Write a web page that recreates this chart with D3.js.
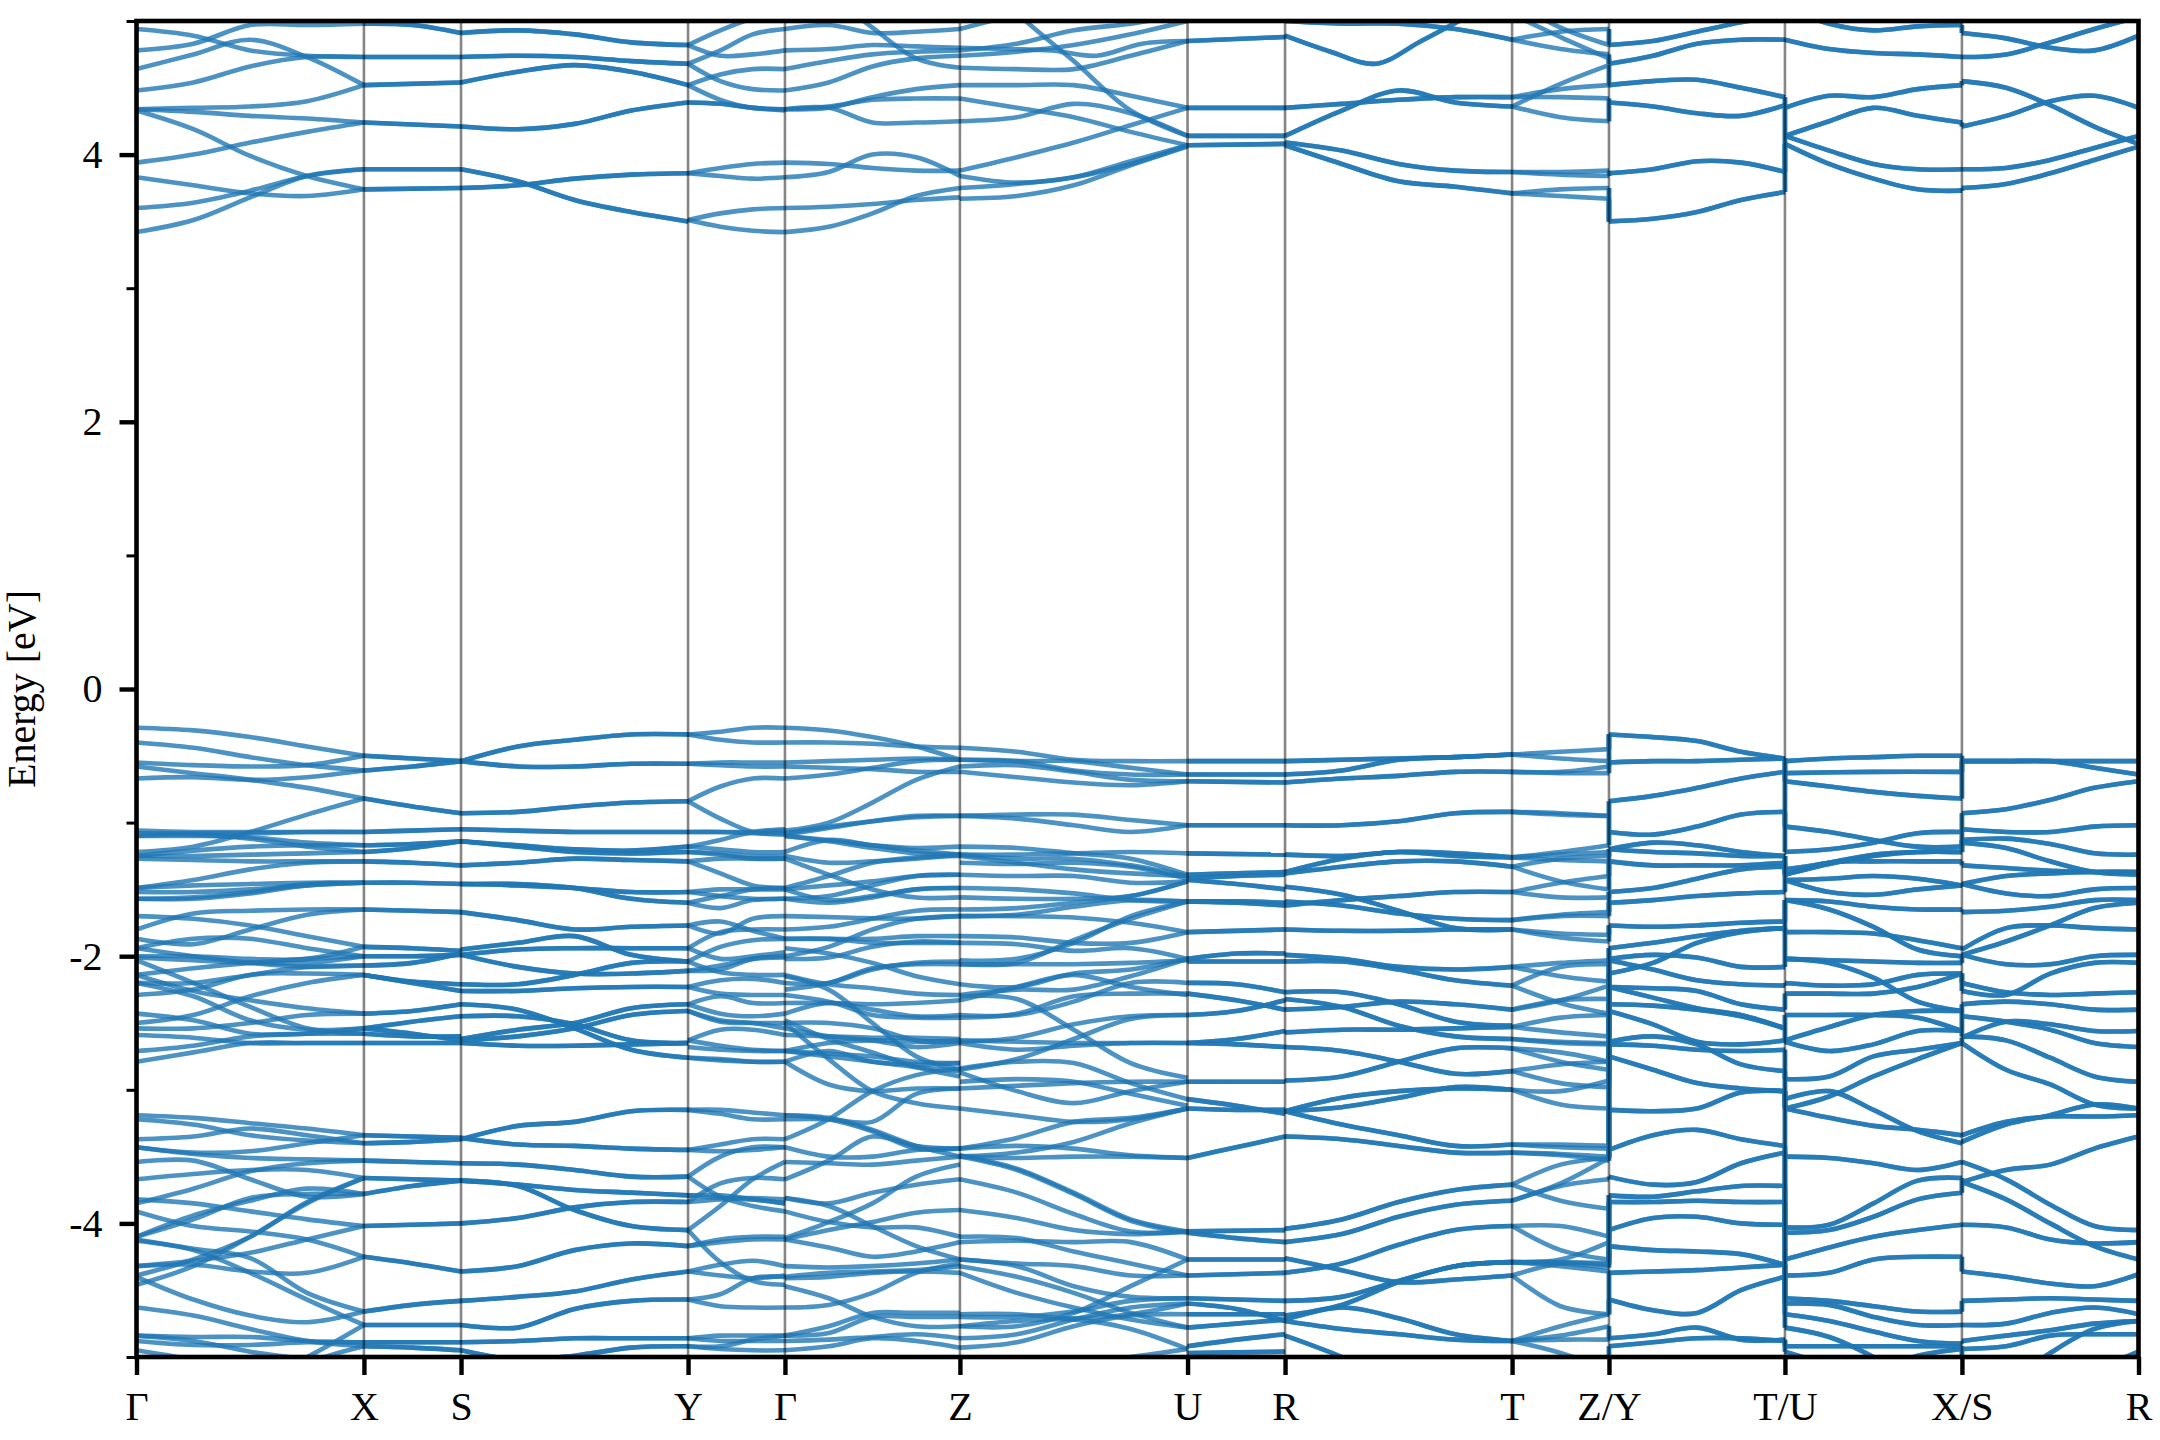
<!DOCTYPE html>
<html>
<head>
<meta charset="utf-8">
<script src="https://cdn.jsdelivr.net/npm/d3@7"></script>
<style>
html,body{margin:0;padding:0;background:#fff;}
svg{display:block;}
text{font-family:"Liberation Serif","Times New Roman",serif;fill:#000;}
</style>
</head>
<body>
<div id="chart"></div>
<script>
const kLabels = ["Γ","X","S","Y","Γ","Z","U","R","T","Z/Y","T/U","X/S","R"];
const kPath = [0,0.1136,0.1621,0.2755,0.3239,0.4113,0.5250,0.5737,0.6871,0.7355,0.8234,0.9118,1];
const yMajor = [-4,-2,0,2,4];
const yMinor = [-5,-3,-1,1,3,5];

const bandsGX = [
[4.94,4.89,4.78,4.74,4.73],[4.78,4.83,4.97,4.97,4.98],[4.64,4.75,4.86,4.73,4.52],[4.48,4.54,4.66,4.73,4.73],
[4.34,4.35,4.36,4.40,4.52],[4.34,4.32,4.29,4.27,4.24],[4.33,4.19,3.99,3.84,3.74],[3.94,4.00,4.09,4.17,4.24],
[3.83,3.77,3.71,3.69,3.74],[3.60,3.64,3.73,3.84,3.89],[3.42,3.51,3.68,3.84,3.89],
[-0.29,-0.31,-0.36,-0.43,-0.50],[-0.40,-0.44,-0.51,-0.57,-0.61],[-0.55,-0.57,-0.58,-0.57,-0.50],[-0.58,-0.63,-0.68,-0.74,-0.82],
[-0.67,-0.66,-0.68,-0.66,-0.61],[-1.22,-1.18,-1.07,-0.94,-0.82],[-1.06,-1.07,-1.07,-1.07,-1.07],[-1.08,-1.08,-1.08,-1.07,-1.07],
[-1.10,-1.10,-1.11,-1.15,-1.17],[-1.10,-1.09,-1.12,-1.18,-1.22],[-1.25,-1.21,-1.18,-1.17,-1.17],[-1.25,-1.25,-1.24,-1.23,-1.22],
[-1.27,-1.28,-1.29,-1.29,-1.29],[-1.49,-1.43,-1.35,-1.30,-1.29],[-1.49,-1.47,-1.46,-1.45,-1.45],[-1.52,-1.52,-1.50,-1.47,-1.45],
[-1.57,-1.57,-1.53,-1.47,-1.45],[-1.57,-1.56,-1.52,-1.46,-1.45],
[-1.70,-1.72,-1.77,-1.85,-1.93],[-1.80,-1.68,-1.66,-1.65,-1.65],[-1.87,-1.91,-1.80,-1.69,-1.65],[-1.94,-1.87,-1.87,-1.94,-2.00],
[-2.00,-2.00,-2.02,-2.02,-1.93],[-2.01,-2.03,-2.05,-2.05,-2.00],[-2.14,-2.09,-2.05,-2.02,-2.00],[-2.20,-2.20,-2.14,-2.08,-2.07],
[-2.29,-2.25,-2.14,-2.13,-2.14],[-1.94,-2.00,-2.05,-2.08,-2.07],[-2.50,-2.44,-2.30,-2.20,-2.14],
[-2.03,-2.20,-2.38,-2.54,-2.58],[-2.14,-2.26,-2.33,-2.39,-2.43],[-2.20,-2.30,-2.48,-2.55,-2.54],
[-2.79,-2.72,-2.65,-2.65,-2.65],[-2.71,-2.67,-2.60,-2.58,-2.54],[-2.59,-2.61,-2.65,-2.65,-2.65],[-2.54,-2.54,-2.50,-2.44,-2.43],
[-2.43,-2.48,-2.58,-2.58,-2.58],
[-3.19,-3.21,-3.25,-3.29,-3.34],[-3.22,-3.26,-3.34,-3.38,-3.40],[-3.37,-3.35,-3.29,-3.34,-3.40],[-3.43,-3.47,-3.46,-3.40,-3.34],
[-3.43,-3.48,-3.51,-3.52,-3.53],[-3.54,-3.53,-3.67,-3.80,-3.78],[-3.67,-3.63,-3.60,-3.60,-3.66],[-3.85,-3.74,-3.61,-3.55,-3.53],
[-3.82,-3.85,-3.91,-3.97,-4.02],[-3.91,-4.02,-4.06,-4.12,-4.25],[-4.10,-3.97,-3.81,-3.78,-3.78],[-4.10,-3.94,-3.83,-3.74,-3.78],
[-4.12,-4.19,-4.26,-4.52,-4.66],[-4.13,-4.20,-4.37,-4.57,-4.76],[-4.32,-4.28,-4.22,-4.12,-4.02],[-4.32,-4.31,-4.36,-4.37,-4.25],
[-4.39,-4.27,-4.10,-3.84,-3.66],[-4.46,-4.32,-4.10,-3.85,-3.66],[-4.40,-4.57,-4.69,-4.74,-4.66],[-4.63,-4.69,-4.79,-4.88,-4.92],
[-4.84,-4.85,-4.85,-4.88,-4.89],[-4.84,-4.88,-4.96,-5.02,-5.10],[-4.88,-4.91,-4.91,-4.89,-4.89],[-4.95,-5.02,-5.10,-5.20,-5.30],
[-5.40,-5.30,-5.20,-5.00,-4.76],[-5.50,-5.40,-5.30,-5.05,-4.92]
];

const bandsXS = [
[4.98,4.97,4.91],[4.73,4.73],[4.52,4.54],[4.24,4.21],[3.89,3.89],[3.74,3.75],
[-0.50,-0.52,-0.54],[-0.61,-0.58,-0.54],[-0.82,-0.88,-0.93],[-1.07,-1.06,-1.05],[-1.17,-1.16,-1.14],[-1.22,-1.19,-1.14],
[-1.29,-1.30,-1.32],[-1.45,-1.45,-1.46],[-1.65,-1.66,-1.67],[-1.93,-1.94,-1.96],[-2.00,-2.00,-1.99],[-2.07,-2.05,-1.98],
[-2.14,-2.19,-2.21],[-2.14,-2.20,-2.26],[-2.43,-2.41,-2.36],[-2.54,-2.49,-2.45],[-2.54,-2.58,-2.63],[-2.65,-2.65,-2.65],[-2.58,-2.60,-2.60],
[-3.34,-3.35,-3.36],[-3.40,-3.39,-3.37],[-3.53,-3.54,-3.55],[-3.66,-3.67,-3.68],[-3.78,-3.72,-3.68],[-4.02,-4.01,-4.00],
[-4.25,-4.30,-4.36],[-4.66,-4.61,-4.58],[-4.76,-4.76],[-4.89,-4.89],[-4.92,-4.93,-4.95]
];

const bandsSY = [
[4.91,4.93,4.90,4.84,4.82],[4.73,4.74,4.73,4.70,4.68],[4.54,4.62,4.67,4.62,4.52],[4.21,4.19,4.23,4.33,4.39],
[3.89,3.80,3.66,3.57,3.50],[3.75,3.77,3.82,3.85,3.86],
[-0.54,-0.43,-0.38,-0.34,-0.34],[-0.54,-0.58,-0.58,-0.56,-0.56],[-0.93,-0.92,-0.88,-0.85,-0.84],[-1.05,-1.06,-1.07,-1.07,-1.07],
[-1.14,-1.17,-1.20,-1.21,-1.18],[-1.14,-1.18,-1.22,-1.23,-1.22],[-1.32,-1.30,-1.27,-1.28,-1.29],[-1.46,-1.47,-1.49,-1.52,-1.52],
[-1.46,-1.46,-1.49,-1.57,-1.60],[-1.67,-1.73,-1.80,-1.78,-1.77],[-1.95,-1.90,-1.85,-1.99,-2.04],[-1.99,-1.95,-1.94,-1.94,-1.94],
[-1.99,-2.08,-2.13,-2.13,-2.11],[-2.21,-2.21,-2.14,-2.05,-2.04],[-2.26,-2.26,-2.24,-2.23,-2.23],[-2.36,-2.40,-2.54,-2.70,-2.76],
[-2.45,-2.45,-2.51,-2.63,-2.65],[-2.62,-2.55,-2.50,-2.39,-2.36],[-2.63,-2.60,-2.54,-2.44,-2.41],[-2.65,-2.67,-2.67,-2.66,-2.65],
[-3.36,-3.41,-3.42,-3.44,-3.45],[-3.37,-3.27,-3.24,-3.16,-3.15],[-3.55,-3.56,-3.60,-3.65,-3.65],[-3.68,-3.71,-3.75,-3.77,-3.79],
[-3.68,-3.72,-3.90,-4.02,-4.05],[-4.00,-3.96,-3.88,-3.84,-3.84],[-4.36,-4.32,-4.20,-4.15,-4.17],[-4.58,-4.55,-4.51,-4.42,-4.36],
[-4.76,-4.78,-4.64,-4.58,-4.57],[-4.89,-4.88,-4.86,-4.86,-4.86],[-4.95,-5.02,-4.99,-4.93,-4.92]
];

const bandsYG = [
[4.82,4.93,5.02,5.08],[4.82,4.74,4.75,4.78],[4.68,4.78,4.90,4.94],[4.68,4.55,4.49,4.48],[4.52,4.60,4.64,4.64],[4.52,4.41,4.35,4.34],
[4.39,4.38,4.35,4.34],[4.39,4.38,4.35,4.33],[3.86,3.90,3.93,3.94],[3.86,3.84,3.82,3.83],[3.51,3.56,3.59,3.60],[3.51,3.46,3.43,3.42],
[-0.34,-0.32,-0.29,-0.29],[-0.34,-0.38,-0.40,-0.40],[-0.56,-0.55,-0.55,-0.55],[-0.56,-0.57,-0.58,-0.58],[-0.84,-0.73,-0.67,-0.67],
[-0.84,-0.97,-1.07,-1.09],[-1.07,-1.07,-1.08,-1.08],[-1.07,-1.07,-1.07,-1.06],[-1.18,-1.13,-1.07,-1.05],[-1.18,-1.20,-1.22,-1.22],
[-1.22,-1.23,-1.25,-1.25],[-1.22,-1.24,-1.27,-1.27],[-1.29,-1.38,-1.47,-1.49],[-1.29,-1.27,-1.27,-1.27],[-1.52,-1.50,-1.50,-1.50],
[-1.52,-1.55,-1.57,-1.57],[-1.60,-1.64,-1.58,-1.57],[-1.60,-1.55,-1.50,-1.49],[-1.77,-1.74,-1.81,-1.87],[-1.77,-1.83,-1.72,-1.70],
[-1.94,-1.82,-1.80,-1.80],[-1.94,-2.02,-2.00,-1.97],[-2.04,-1.93,-1.88,-1.87],[-2.04,-2.12,-2.14,-2.14],[-2.11,-2.10,-2.02,-2.00],
[-2.11,-2.07,-2.02,-2.01],[-2.23,-2.18,-2.17,-2.20],[-2.23,-2.28,-2.29,-2.29],[-2.36,-2.30,-2.35,-2.35],[-2.36,-2.43,-2.45,-2.43],
[-2.41,-2.48,-2.50,-2.54],[-2.41,-2.49,-2.50,-2.50],[-2.63,-2.55,-2.55,-2.59],[-2.63,-2.67,-2.70,-2.71],[-2.68,-2.70,-2.71,-2.71],
[-2.76,-2.78,-2.79,-2.79],[-2.76,-2.77,-2.79,-2.79],
[-3.15,-3.15,-3.17,-3.19],[-3.15,-3.18,-3.22,-3.22],[-3.45,-3.41,-3.37,-3.37],[-3.45,-3.46,-3.45,-3.43],[-3.65,-3.50,-3.43,-3.43],
[-3.65,-3.80,-3.87,-3.91],[-3.79,-3.81,-3.81,-3.82],[-3.79,-3.79,-3.82,-3.85],[-3.84,-3.82,-3.82,-3.85],[-3.84,-3.70,-3.66,-3.67],
[-4.05,-3.87,-3.67,-3.54],[-4.05,-4.29,-4.43,-4.46],[-4.17,-4.12,-4.10,-4.10],[-4.17,-4.14,-4.12,-4.12],[-4.36,-4.31,-4.28,-4.32],
[-4.36,-4.39,-4.41,-4.39],[-4.57,-4.62,-4.63,-4.63],[-4.57,-4.53,-4.41,-4.40],[-4.86,-4.84,-4.84,-4.84],[-4.86,-4.88,-4.88,-4.88],
[-4.92,-4.92,-4.87,-4.84],[-4.92,-4.94,-4.95,-4.95]
];

const bandsGZ = [
[4.94,4.97,4.91,4.92,4.94],[5.40,5.20,4.95,4.72,4.65],[4.78,4.79,4.82,4.81,4.80],[4.64,4.70,4.75,4.77,4.78],[4.48,4.54,4.66,4.72,4.74],
[4.34,4.35,4.43,4.49,4.52],[4.34,4.36,4.41,4.42,4.42],[4.34,4.35,4.24,4.24,4.25],[3.94,3.93,3.90,3.88,3.88],[3.83,3.87,4.00,3.98,3.84],
[3.60,3.61,3.63,3.66,3.68],[3.42,3.46,3.56,3.69,3.75],
[-0.29,-0.31,-0.36,-0.43,-0.53],[-0.40,-0.40,-0.41,-0.43,-0.44],[-0.55,-0.54,-0.53,-0.52,-0.53],[-0.58,-0.59,-0.60,-0.62,-0.62],
[-0.67,-0.64,-0.59,-0.54,-0.53],[-1.06,-1.00,-0.85,-0.68,-0.58],[-1.08,-1.03,-0.99,-0.96,-0.95],[-1.09,-1.04,-0.99,-0.95,-0.95],
[-1.10,-1.14,-1.19,-1.23,-1.24],[-1.10,-1.13,-1.17,-1.19,-1.18],[-1.22,-1.13,-1.17,-1.21,-1.24],[-1.25,-1.30,-1.29,-1.27,-1.24],
[-1.27,-1.39,-1.50,-1.56,-1.56],[-1.49,-1.40,-1.30,-1.26,-1.25],[-1.50,-1.47,-1.44,-1.40,-1.39],[-1.50,-1.58,-1.55,-1.50,-1.49],
[-1.57,-1.60,-1.56,-1.50,-1.49],[-1.57,-1.55,-1.47,-1.40,-1.39],[-1.70,-1.71,-1.72,-1.70],[-1.80,-1.78,-1.72,-1.66,-1.65],
[-1.87,-1.87,-1.87,-1.85,-1.85],[-1.87,-1.87,-1.90,-1.90,-1.90],[-1.94,-1.98,-2.05,-2.15,-2.21],[-2.00,-1.93,-1.80,-1.72,-1.70],
[-2.02,-2.01,-1.93,-1.89,-1.90],[-2.14,-2.21,-2.24,-2.28,-2.29],[-2.20,-2.20,-2.10,-2.05,-2.04],[-2.25,-2.20,-2.09,-2.06,-2.06],
[-2.29,-2.34,-2.44,-2.46,-2.46],[-2.35,-2.35,-2.36,-2.35,-2.33],[-2.43,-2.35,-2.40,-2.45,-2.44],[-2.50,-2.50,-2.54,-2.63,-2.64],
[-2.54,-2.60,-2.63,-2.68,-2.65],[-2.59,-2.60,-2.61,-2.61,-2.62],[-2.15,-2.25,-2.50,-2.75,-2.85],[-2.48,-2.62,-2.72,-2.83,-2.90],
[-2.71,-2.65,-2.63,-2.64,-2.63],[-2.79,-2.71,-2.79,-2.81,-2.80],[-2.71,-2.73,-2.75,-2.79,-2.80],
[-3.19,-3.21,-3.30,-3.42,-3.50],[-3.19,-3.22,-3.31,-3.44,-3.44],[-3.37,-3.22,-3.01,-2.89,-2.84],[-3.43,-3.50,-3.50,-3.45,-3.44],
[-3.54,-3.55,-3.56,-3.53,-3.50],[-3.67,-3.53,-3.35,-3.42,-3.44],[-3.22,-3.22,-3.24,-3.03,-2.99],[-2.79,-2.96,-3.01,-2.99,-2.99],
[-2.50,-2.77,-3.01,-3.10,-3.14],[-2.71,-2.75,-2.79,-2.83,-2.86],
[-3.81,-3.85,-3.77,-3.71,-3.67],[-3.81,-3.87,-4.02,-4.17,-4.27],[-3.91,-3.99,-4.03,-4.03,-4.10],[-4.11,-3.99,-3.85,-3.65,-3.56],
[-4.12,-4.05,-3.99,-3.92,-3.90],[-4.12,-4.18,-4.25,-4.21,-4.14],[-4.32,-4.33,-4.32,-4.30,-4.27],[-4.40,-4.37,-4.36,-4.35,-4.32],
[-4.41,-4.40,-4.37,-4.36,-4.37],[-4.47,-4.56,-4.70,-4.77,-4.77],[-4.63,-4.61,-4.52,-4.37,-4.30],[-4.84,-4.77,-4.67,-4.67,-4.67],
[-4.84,-4.82,-4.70,-4.70,-4.70],[-4.88,-4.87,-4.85,-4.83,-4.86],[-4.95,-4.92,-4.86,-4.88,-4.93]
];

const bandsZU = [
[4.94,5.05,5.15,5.20,5.20],[5.50,5.06,4.70,4.33,4.14],[4.78,4.83,4.93,4.98,5.05],[4.74,4.77,4.82,4.90,5.00],
[4.80,4.79,4.78,4.74,4.83,4.85],[4.65,4.64,4.64,4.74,4.85],[4.52,4.52,4.52,4.44,4.35],[4.42,4.35,4.28,4.17,4.07],
[4.25,4.28,4.38,4.31,4.14],[3.88,3.98,4.09,4.22,4.35],[3.84,3.79,3.83,3.93,4.07],[3.75,3.78,3.83,3.95,4.07],[3.67,3.69,3.77,3.92,4.06],
[-0.44,-0.47,-0.53,-0.54,-0.54],[-0.53,-0.54,-0.61,-0.64,-0.64],[-0.53,-0.54,-0.54,-0.59,-0.64],[-0.58,-0.57,-0.62,-0.68,-0.69],
[-0.62,-0.66,-0.70,-0.72,-0.69],[-0.95,-0.94,-0.94,-0.98,-1.02],[-0.95,-0.97,-1.02,-1.07,-1.02],[-1.18,-1.19,-1.23,-1.27,-1.39],
[-1.24,-1.24,-1.23,-1.22,-1.23],[-1.24,-1.27,-1.27,-1.32,-1.40],[-1.25,-1.30,-1.35,-1.38,-1.40],[-1.30,-1.31,-1.30,-1.33,-1.42],
[-1.39,-1.40,-1.40,-1.45,-1.44],[-1.49,-1.50,-1.53,-1.58,-1.59],[-1.56,-1.57,-1.57,-1.55,-1.44],[-1.65,-1.64,-1.60,-1.55,-1.44],
[-1.70,-1.69,-1.63,-1.58,-1.59],[-1.70,-1.70,-1.71,-1.75,-1.82],[-1.85,-1.86,-1.90,-1.90,-1.82],[-1.90,-1.91,-1.96,-1.94,-2.02],
[-2.03,-2.02,-1.90,-1.70,-1.59],[-2.06,-2.05,-1.88,-1.72,-1.59],[-2.06,-2.06,-2.06,-2.05,-2.03],[-2.21,-2.23,-2.13,-2.10,-2.02],
[-2.29,-2.25,-2.25,-2.15,-2.02],[-2.30,-2.32,-2.55,-2.80,-2.91],[-2.44,-2.44,-2.34,-2.20,-2.20],[-2.46,-2.43,-2.30,-2.28,-2.28],
[-2.33,-2.23,-2.14,-2.23,-2.29],[-2.64,-2.61,-2.51,-2.45,-2.44],[-2.65,-2.70,-2.67,-2.65,-2.65],[-2.63,-2.64,-2.65,-2.65,-2.65],
[-2.85,-2.77,-2.62,-2.47,-2.44],[-2.84,-2.79,-2.80,-2.95,-3.07],[-2.94,-2.92,-2.94,-3.03,-3.12],[-2.99,-2.97,-2.95,-2.94,-2.94],
[-2.87,-3.01,-3.10,-3.01,-2.94],[-3.14,-3.19,-3.24,-3.22,-3.14],[-3.44,-3.36,-3.24,-3.21,-3.14],[-3.44,-3.42,-3.44,-3.49,-3.51],
[-3.50,-3.51,-3.50,-3.50,-3.51],[-3.50,-3.47,-3.39,-3.25,-3.14],[-3.49,-3.59,-3.77,-3.97,-4.06],[-3.50,-3.60,-3.78,-3.98,-4.07],
[-3.67,-3.77,-3.93,-4.06,-4.06],[-3.90,-3.96,-4.05,-4.08,-4.06],[-4.10,-4.11,-4.21,-4.30,-4.39],[-4.14,-4.13,-4.14,-4.14,-4.27],
[-4.27,-4.30,-4.32,-4.39,-4.39],[-4.27,-4.32,-4.47,-4.55,-4.56],[-4.32,-4.40,-4.52,-4.67,-4.78],[-4.37,-4.52,-4.63,-4.72,-4.78],
[-4.68,-4.68,-4.71,-4.68,-4.60],[-4.70,-4.70,-4.66,-4.58,-4.56],[-4.77,-4.77,-4.67,-4.47,-4.27],[-4.86,-4.83,-4.72,-4.63,-4.60],
[-4.93,-4.89,-4.77,-4.69,-4.68],[-4.77,-4.73,-4.72,-4.79,-4.94],[-5.10,-5.10,-5.05,-5.00,-4.94]
];

const bandsUR = [
[4.85,4.88],[4.35,4.35],[4.14,4.14],[4.07,4.08],
[-0.54,-0.54],[-0.64,-0.64],[-0.69,-0.70],[-1.02,-1.02],[-1.23,-1.24],[-1.39,-1.38,-1.37],[-1.42,-1.40,-1.39],[-1.43,-1.46,-1.50],
[-1.59,-1.59,-1.60],[-1.59,-1.60,-1.62],[-1.82,-1.80],[-2.02,-1.98,-1.98],[-2.04,-2.04,-2.04],[-2.20,-2.21,-2.27],[-2.28,-2.33,-2.40],
[-2.44,-2.41,-2.33],[-2.65,-2.62,-2.56],[-2.65,-2.66,-2.68],[-2.94,-2.94],[-3.07,-3.12,-3.18],[-3.14,-3.15,-3.15],[-3.51,-3.43,-3.35],
[-4.06,-4.05],[-4.07,-4.11,-4.14],[-4.27,-4.27],[-4.39,-4.37],[-4.56,-4.58],[-4.60,-4.64,-4.73],[-4.68,-4.68],[-4.78,-4.75,-4.72],
[-4.92,-4.87,-4.83],[-4.97,-4.96]
];

const bandsRT = [
[4.89,4.77,4.68,4.85,5.03,5.20],[5.00,4.98,4.98,4.94,4.86],[4.35,4.38,4.41,4.43,4.43],[4.14,4.33,4.48,4.39,4.36],[4.09,4.03,3.93,3.88,3.87],[4.07,3.93,3.80,3.76,3.71],
[-0.54,-0.53,-0.52,-0.51,-0.49],[-0.64,-0.61,-0.53,-0.51,-0.49],[-0.70,-0.67,-0.65,-0.62,-0.62],[-1.02,-1.02,-0.99,-0.93,-0.92],
[-1.24,-1.25,-1.22,-1.23,-1.26],[-1.37,-1.27,-1.22,-1.25,-1.26],[-1.38,-1.33,-1.29,-1.29,-1.33],[-1.48,-1.54,-1.66,-1.79,-1.80],
[-1.59,-1.62,-1.68,-1.72,-1.73],[-1.62,-1.58,-1.55,-1.52,-1.52],[-1.80,-1.81,-1.81,-1.80,-1.80],[-1.99,-2.02,-2.08,-2.10,-2.08],
[-2.04,-2.04,-2.10,-2.18,-2.22],[-2.27,-2.27,-2.36,-2.49,-2.52],[-2.32,-2.38,-2.52,-2.60,-2.62],[-2.40,-2.38,-2.34,-2.36,-2.40],
[-2.57,-2.55,-2.55,-2.54,-2.53],[-2.68,-2.71,-2.79,-2.88,-2.86],[-2.93,-2.90,-2.79,-2.69,-2.69],[-3.16,-3.06,-3.01,-2.99,-3.00],
[-3.16,-3.13,-3.06,-2.98,-3.00],[-3.16,-3.26,-3.34,-3.42,-3.41],[-3.35,-3.37,-3.42,-3.47,-3.47],[-4.04,-3.97,-3.84,-3.75,-3.71],
[-4.14,-4.08,-3.95,-3.86,-3.83],[-4.26,-4.35,-4.44,-4.42,-4.39],[-4.37,-4.30,-4.16,-4.05,-4.02],[-4.58,-4.55,-4.43,-4.32,-4.29],
[-4.69,-4.61,-4.44,-4.32,-4.29],[-4.72,-4.63,-4.71,-4.83,-4.88],[-4.73,-4.79,-4.83,-4.87,-4.88],[-4.84,-5.00,-5.20,-5.20,-5.10]
];

const bandsTZ = [
[4.86,4.92,4.94],[4.86,4.79,4.75],[5.05,4.88,4.72],[5.15,4.95,4.82],[4.43,4.49,4.52],[4.43,4.43,4.42],[4.36,4.53,4.67],[4.36,4.28,4.25],
[3.87,3.87,3.88],[3.87,3.85,3.84],[3.71,3.74,3.75],[3.71,3.69,3.67],
[-0.49,-0.47,-0.45],[-0.49,-0.52,-0.54],[-0.62,-0.62,-0.58],[-0.62,-0.63,-0.63],[-0.92,-0.93,-0.95],[-0.92,-0.94,-0.95],
[-1.26,-1.22,-1.17],[-1.26,-1.24,-1.22],[-1.33,-1.27,-1.25],[-1.33,-1.44,-1.50],[-1.26,-1.28,-1.29],[-1.52,-1.45,-1.40],[-1.52,-1.56,-1.56],
[-1.73,-1.69,-1.67],[-1.73,-1.70,-1.70],[-1.80,-1.86,-1.89],[-1.80,-1.83,-1.84],[-2.08,-2.05,-2.03],[-2.08,-2.15,-2.19],
[-2.22,-2.08,-2.06],[-2.22,-2.35,-2.43],[-2.40,-2.33,-2.22],[-2.40,-2.33,-2.32],[-2.53,-2.46,-2.44],[-2.53,-2.57,-2.60],
[-2.62,-2.64,-2.65],[-2.62,-2.65,-2.66],[-2.69,-2.79,-2.85],[-2.69,-2.72,-2.79],[-2.86,-2.95,-2.98],[-2.86,-2.81,-2.79],
[-3.00,-3.01,-2.93],[-3.00,-3.11,-3.14],[-3.41,-3.41,-3.42],[-3.41,-3.43,-3.44],[-3.47,-3.48,-3.50],[-3.47,-3.49,-3.53],
[-3.71,-3.56,-3.51],[-3.71,-3.83,-3.89],[-3.83,-3.72,-3.67],[-3.83,-3.70,-3.51],[-4.02,-4.02,-4.10],[-4.02,-4.20,-4.27],
[-4.29,-4.29,-4.31],[-4.29,-4.27,-4.14],[-4.29,-4.32,-4.36],[-4.29,-4.30,-4.33],[-4.39,-4.62,-4.68],[-4.39,-4.30,-4.30],
[-4.88,-4.77,-4.68],[-4.88,-4.84,-4.77],[-4.88,-4.87,-4.87],[-4.88,-4.97,-5.10]
];

const bandsYT = [
[4.82,4.85,4.92,4.99,5.05],[4.68,4.74,4.83,4.86,4.86],[4.52,4.55,4.56,4.50,4.43],[4.39,4.36,4.31,4.29,4.37],[3.86,3.89,3.95,3.94,3.87],[3.50,3.52,3.57,3.66,3.72],
[-0.34,-0.36,-0.39,-0.47,-0.52],[-0.55,-0.54,-0.54,-0.53,-0.52],[-0.84,-0.80,-0.74,-0.67,-0.62],[-1.07,-1.09,-1.03,-0.94,-0.92],
[-1.20,-1.15,-1.17,-1.22,-1.25],[-1.20,-1.22,-1.23,-1.25,-1.25],[-1.29,-1.32,-1.32,-1.32,-1.30],[-1.52,-1.49,-1.42,-1.35,-1.33],
[-1.60,-1.58,-1.55,-1.53,-1.52],[-1.77,-1.78,-1.77,-1.75,-1.74],[-1.94,-1.90,-1.85,-1.81,-1.79],[-2.13,-2.05,-1.90,-1.82,-1.79],
[-2.02,-1.99,-2.01,-2.08,-2.08],[-2.03,-2.10,-2.18,-2.21,-2.22],[-2.23,-2.24,-2.26,-2.36,-2.40],[-2.23,-2.31,-2.39,-2.44,-2.54],
[-2.36,-2.37,-2.40,-2.45,-2.54],[-2.41,-2.51,-2.64,-2.66,-2.63],[-2.64,-2.60,-2.66,-2.81,-2.86],[-2.66,-2.67,-2.70,-2.71,-2.70],
[-2.75,-2.85,-2.95,-2.99,-3.01],[-3.15,-3.16,-3.14,-3.02,-3.01],[-3.45,-3.34,-3.30,-3.37,-3.42],[-3.65,-3.71,-3.69,-3.55,-3.47],
[-3.79,-3.80,-3.76,-3.72,-3.72],[-3.84,-3.84,-3.83,-3.84,-3.84],[-4.05,-3.96,-3.95,-4.00,-4.01],[-4.17,-4.20,-4.21,-4.23,-4.31],
[-4.37,-4.36,-4.35,-4.33,-4.31],[-4.57,-4.65,-4.67,-4.50,-4.40],[-4.86,-4.83,-4.78,-4.87,-4.87],[-4.92,-4.89,-4.86,-4.86,-4.88]
];

const bandsUX = [
[4.86,4.79,4.76,4.75,4.73],[5.10,4.98,4.93,4.96,4.97],[4.35,4.44,4.43,4.49,4.52],[4.14,4.25,4.35,4.29,4.24],[4.14,4.03,3.93,3.89,3.89],[4.08,3.93,3.82,3.74,3.73],
[-0.54,-0.52,-0.51,-0.50,-0.50],[-0.63,-0.62,-0.62],[-0.69,-0.73,-0.77,-0.80,-0.82],[-1.03,-1.07,-1.13,-1.18,-1.18],[-1.22,-1.20,-1.15,-1.08,-1.07],
[-1.35,-1.30,-1.24,-1.22,-1.22],[-1.39,-1.31,-1.25,-1.22,-1.22],[-1.39,-1.30,-1.29,-1.29,-1.29],[-1.43,-1.42,-1.40,-1.42,-1.47],[-1.43,-1.52,-1.54,-1.50,-1.47],
[-1.58,-1.59,-1.63,-1.65,-1.65],[-1.58,-1.65,-1.78,-1.95,-2.00],[-1.82,-1.82,-1.83,-1.88,-1.94],[-2.02,-2.03,-2.04,-2.05,-2.05],[-2.02,-2.05,-2.16,-2.34,-2.41],
[-2.20,-2.22,-2.21,-2.14,-2.13],[-2.28,-2.28,-2.28,-2.23,-2.13],[-2.44,-2.44,-2.44,-2.46,-2.56],[-2.63,-2.53,-2.44,-2.41,-2.41],[-2.64,-2.71,-2.66,-2.56,-2.56],
[-2.92,-2.90,-2.75,-2.70,-2.65],[-3.14,-3.05,-2.90,-2.77,-2.65],[-3.07,-3.01,-3.15,-3.31,-3.40],[-3.14,-3.21,-3.27,-3.30,-3.34],[-3.50,-3.51,-3.55,-3.60,-3.54],
[-4.03,-4.01,-3.85,-3.68,-3.66],[-4.07,-4.05,-3.95,-3.82,-3.77],[-4.27,-4.18,-4.10,-4.05,-4.01],[-4.39,-4.37,-4.27,-4.25,-4.25],[-4.56,-4.58,-4.62,-4.66,-4.66],
[-4.60,-4.61,-4.70,-4.76,-4.76],[-4.68,-4.73,-4.81,-4.88,-4.90],[-4.78,-4.85,-5.00,-5.20,-5.20],[-4.92,-4.92,-4.92,-4.92,-4.92],[-4.96,-5.05,-5.10,-4.99,-4.94]
];

const bandsSR = [
[4.91,4.87,4.80,4.78,4.89],[4.73,4.75,4.84,4.94,5.03],[4.55,4.50,4.37,4.21,4.08],[4.21,4.29,4.40,4.44,4.35],[3.89,3.90,3.96,4.05,4.14],[3.75,3.78,3.86,3.96,4.06],
[-0.54,-0.54,-0.54],[-0.54,-0.54,-0.54,-0.59,-0.64],[-0.93,-0.90,-0.83,-0.74,-0.69],[-1.05,-1.07,-1.07,-1.03,-1.02],[-1.13,-1.12,-1.16,-1.23,-1.24],
[-1.15,-1.19,-1.29,-1.37,-1.39],[-1.32,-1.34,-1.36,-1.37,-1.37],[-1.46,-1.40,-1.38,-1.37,-1.37],[-1.46,-1.53,-1.55,-1.50,-1.49],[-1.67,-1.66,-1.63,-1.58,-1.58],
[-1.95,-1.79,-1.77,-1.79,-1.80],[-1.99,-1.89,-1.77,-1.64,-1.60],[-1.99,-2.06,-2.06,-2.00,-1.99],[-2.20,-2.27,-2.29,-2.28,-2.27],[-2.26,-2.29,-2.13,-2.05,-2.05],
[-2.36,-2.34,-2.36,-2.40,-2.40],[-2.45,-2.49,-2.55,-2.65,-2.68],[-2.61,-2.49,-2.51,-2.56,-2.56],[-2.60,-2.63,-2.76,-2.90,-2.94],[-2.65,-2.85,-2.96,-3.11,-3.14],
[-3.34,-3.24,-3.20,-3.20,-3.19],[-3.39,-3.26,-3.19,-3.11,-3.14],[-3.54,-3.67,-3.86,-4.02,-4.05],[-3.69,-3.60,-3.56,-3.44,-3.35],[-3.69,-3.82,-4.00,-4.17,-4.27],
[-4.01,-4.03,-4.12,-4.15,-4.14],[-4.36,-4.40,-4.45,-4.47,-4.38],[-4.58,-4.57,-4.56,-4.57,-4.58],[-4.76,-4.75,-4.67,-4.63,-4.68],[-4.88,-4.84,-4.80,-4.75,-4.73],
[-4.94,-4.92,-4.84,-4.83,-4.83],[-5.30,-5.20,-4.97,-4.79,-4.73],[-5.40,-5.30,-5.25,-5.10,-4.96]
];

// Path table: index of the segment's first k-point, bands, and whether the band pairs are degenerate
const pathSegments = [
  {from:0, bands:bandsGX, degenerate:false},
  {from:1, bands:bandsXS, degenerate:true},
  {from:2, bands:bandsSY, degenerate:true},
  {from:3, bands:bandsYG, degenerate:false},
  {from:4, bands:bandsGZ, degenerate:false},
  {from:5, bands:bandsZU, degenerate:false},
  {from:6, bands:bandsUR, degenerate:true},
  {from:7, bands:bandsRT, degenerate:true},
  {from:8, bands:bandsTZ, degenerate:false},
  {from:9, bands:bandsYT, degenerate:true},
  {from:10, bands:bandsUX, degenerate:true},
  {from:11, bands:bandsSR, degenerate:true}
];
const jumps = [ {at:9, left:bandsTZ, right:bandsYT}, {at:10, left:bandsYT, right:bandsUX}, {at:11, left:bandsUX, right:bandsSR} ];
const gapEnergy = 2; // separates conduction and valence manifolds when pairing bands across a path break

const W = 2160, H = 1440;
const plot = {left:136.5, right:2138.5, top:21, bottom:1357};
const x = d3.scaleLinear().domain([0,1]).range([plot.left, plot.right]);
const y = d3.scaleLinear().domain([-5,5]).range([plot.bottom, plot.top]);

const svg = d3.select("#chart").append("svg").attr("width",W).attr("height",H).attr("viewBox",`0 0 ${W} ${H}`);
svg.append("rect").attr("width",W).attr("height",H).attr("fill","#fff");
svg.append("clipPath").attr("id","plot-clip").append("rect")
  .attr("x",plot.left).attr("y",plot.top).attr("width",plot.right-plot.left).attr("height",plot.bottom-plot.top);

const bandColor = "#1f77b4", bandAlpha = 0.8, bandWidth = 4.6;
const gBands = svg.append("g").attr("clip-path","url(#plot-clip)")
  .attr("fill","none").attr("stroke",bandColor).attr("stroke-opacity",bandAlpha).attr("stroke-width",bandWidth)
  .attr("stroke-linejoin","round").attr("stroke-linecap","butt");

const lineGen = d3.line().x(d=>d[0]).y(d=>d[1]).curve(d3.curveCatmullRom.alpha(0.5));
pathSegments.forEach(seg => {
  const k0 = kPath[seg.from], k1 = kPath[seg.from+1];
  seg.bands.forEach(vals => {
    const pts = vals.map((v,i)=>[x(k0+(k1-k0)*i/(vals.length-1)), y(v)]);
    gBands.append("path").attr("d",lineGen(pts));
    if (seg.degenerate) gBands.append("path").attr("d",lineGen(pts));
  });
});

// vertical jumps at the path breaks: within each manifold, sorted bands are paired by rank from the top
function pairByRank(a, b) {
  const big = a.length>=b.length ? a : b, small = a.length>=b.length ? b : a;
  return big.map((v,i)=>[v, small[Math.floor(i*small.length/big.length)]]);
}
jumps.forEach(j => {
  const lEnd = j.left.map(b=>b[b.length-1]).sort(d3.descending);
  const rEnd = j.right.map(b=>b[0]).sort(d3.descending);
  const upper = pairByRank(lEnd.filter(v=>v>gapEnergy), rEnd.filter(v=>v>gapEnergy));
  const lower = pairByRank(lEnd.filter(v=>v<gapEnergy), rEnd.filter(v=>v<gapEnergy));
  upper.concat(lower).forEach(([p,q])=>{
    for (let c=0;c<2;c++) gBands.append("line").attr("x1",x(kPath[j.at])).attr("x2",x(kPath[j.at])).attr("y1",y(p)).attr("y2",y(q));
  });
});

// vertical guides at high-symmetry points
const gGuides = svg.append("g");
gGuides.selectAll("line").data(kPath.slice(1,-1)).join("line")
  .attr("x1",d=>x(d)).attr("x2",d=>x(d)).attr("y1",plot.top).attr("y2",plot.bottom)
  .attr("stroke","#000").attr("stroke-opacity",0.48).attr("stroke-width",2.6);

// axes
const axisFont = 40;
const gx = svg.append("g").attr("transform",`translate(0,${plot.bottom})`)
  .call(d3.axisBottom(x).tickValues(kPath).tickFormat((d,i)=>kLabels[i]).tickSize(18).tickPadding(17));
gx.select(".domain").remove();
gx.selectAll(".tick line").attr("stroke","#000").attr("stroke-width",4.4);
gx.selectAll(".tick text").attr("font-family","Liberation Serif").attr("font-size",axisFont).attr("fill","#000");

const gyMajor = svg.append("g").attr("transform",`translate(${plot.left},0)`)
  .call(d3.axisLeft(y).tickValues(yMajor).tickFormat(d=>String(d)).tickSize(17).tickPadding(17));
gyMajor.select(".domain").remove();
gyMajor.selectAll(".tick line").attr("stroke","#000").attr("stroke-width",4.4);
gyMajor.selectAll(".tick text").attr("font-family","Liberation Serif").attr("font-size",axisFont).attr("fill","#000");

const gyMinor = svg.append("g").attr("transform",`translate(${plot.left},0)`)
  .call(d3.axisLeft(y).tickValues(yMinor).tickFormat("").tickSize(10));
gyMinor.select(".domain").remove();
gyMinor.selectAll(".tick line").attr("stroke","#000").attr("stroke-width",3);

svg.append("rect").attr("x",plot.left).attr("y",plot.top).attr("width",plot.right-plot.left).attr("height",plot.bottom-plot.top)
  .attr("fill","none").attr("stroke","#000").attr("stroke-width",4.6);

svg.append("text").attr("transform",`translate(35,${y(0)+0}) rotate(-90)`).attr("text-anchor","middle")
  .attr("font-size",axisFont).text("Energy [eV]");
</script>
</body>
</html>
